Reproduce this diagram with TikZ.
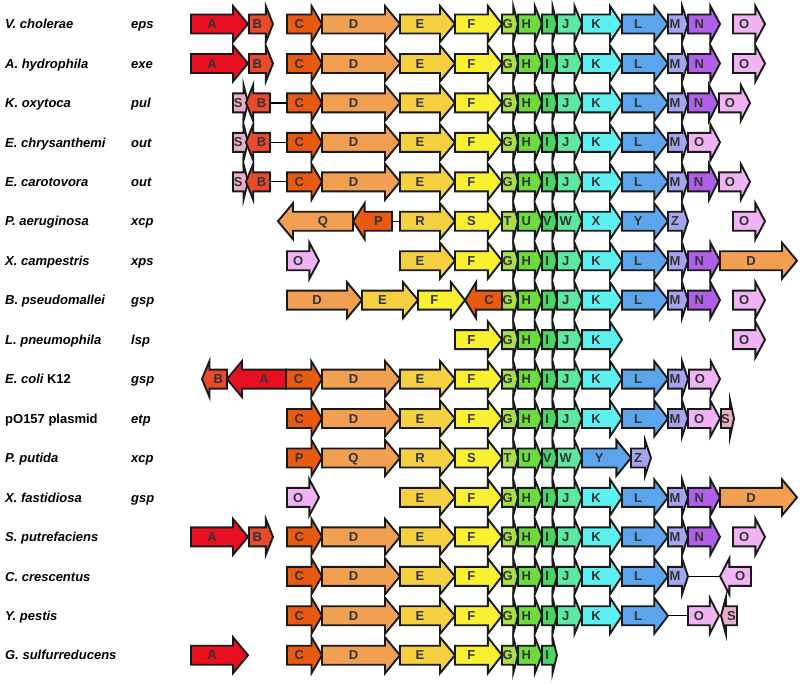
\documentclass[tikz,border=0pt]{standalone}
\usepackage{fontspec}
\setmainfont{Liberation Sans}
\usepackage{tikz}

\definecolor{gA}{HTML}{E81020}
\definecolor{gB}{HTML}{E84A2A}
\definecolor{gC}{HTML}{E85A10}
\definecolor{gD}{HTML}{F0A050}
\definecolor{gE}{HTML}{F5D040}
\definecolor{gF}{HTML}{F8F030}
\definecolor{gG}{HTML}{A8E048}
\definecolor{gH}{HTML}{6CDC3C}
\definecolor{gI}{HTML}{4CD464}
\definecolor{gJ}{HTML}{5CE8A0}
\definecolor{gK}{HTML}{5CF0F0}
\definecolor{gL}{HTML}{5CA4EC}
\definecolor{gM}{HTML}{A4A4F0}
\definecolor{gN}{HTML}{B060E8}
\definecolor{gO}{HTML}{F0B4F4}
\definecolor{gS}{HTML}{E8B0C8}

% gene arrow: name, row, x from, x to, direction (1/-1), colour, letter
\newcommand{\gene}[7]{%
  \pgfmathsetmacro{\gy}{24+(#2-1)*39.45}%
  \pgfmathsetmacro{\gh}{min(15,0.3*(#4-#3))}%
  \ifnum#5>0
    \pgfmathsetmacro{\gb}{#4-\gh}%
    \filldraw[gene, fill=#6] (#3,\gy-9.5) -- (\gb,\gy-9.5) -- (\gb,\gy-18) -- (#4,\gy)
      -- (\gb,\gy+18) -- (\gb,\gy+9.5) -- (#3,\gy+9.5) -- cycle;
    \node[glabel] (#1) at ({(#3+\gb)/2},\gy+4.6) {#7};
  \else
    \pgfmathsetmacro{\gb}{#3+\gh}%
    \filldraw[gene, fill=#6] (#4,\gy-9.5) -- (\gb,\gy-9.5) -- (\gb,\gy-18) -- (#3,\gy)
      -- (\gb,\gy+18) -- (\gb,\gy+9.5) -- (#4,\gy+9.5) -- cycle;
    \node[glabel] (#1) at ({(\gb+#4)/2},\gy+4.6) {#7};
  \fi
  \coordinate (#1-l) at (#3,\gy);
  \coordinate (#1-r) at (#4,\gy);
}

\begin{document}
\begin{tikzpicture}[x=1pt, y=-1pt,
    gene/.style={draw=black!90, line width=1.9pt, line join=miter},
    glabel/.style={anchor=base, inner sep=0pt, text=black!80, font=\fontsize{13}{15}\selectfont\bfseries},
    species/.style={anchor=base west, inner sep=0pt, font=\fontsize{13}{15}\selectfont\bfseries\itshape},
    operon/.style={anchor=base west, inner sep=0pt, font=\fontsize{13}{15}\selectfont\bfseries\itshape},
    link/.style={line width=1.3pt}]
    \useasboundingbox (0,0) rectangle (800,683);

    % Species and operon names
    \foreach \r/\sp/\op in {1/V. cholerae/eps, 2/A. hydrophila/exe, 3/K. oxytoca/pul,
        4/E. chrysanthemi/out, 5/E. carotovora/out, 6/P. aeruginosa/xcp,
        7/X. campestris/xps, 8/B. pseudomallei/gsp, 9/L. pneumophila/lsp,
        10/{E. coli \upshape K12}/gsp, 11/{\upshape pO157 plasmid}/etp, 12/P. putida/xcp,
        13/X. fastidiosa/gsp, 14/S. putrefaciens/, 15/C. crescentus/,
        16/Y. pestis/, 17/G. sulfurreducens/} {
      \pgfmathsetmacro{\ry}{24+(\r-1)*39.45}
      \node[species] (sp\r) at (5,\ry+4.7) {\sp};
      \node[operon] (op\r) at (131,\ry+4.7) {\op};
    }

    % Rows with A B C ... N O
    \foreach \r in {1,2,14} {
      \foreach \n/\a/\b/\c in {A/191/248/gA, B/249/273/gB, C/287/322/gC, D/322/400/gD,
          E/400/455/gE, F/455/502/gF, G/502/518/gG, H/518/542/gH, I/542/557/gI,
          J/557/582/gJ, K/582/622/gK, L/622/668/gL, M/668/688/gM, N/688/720/gN,
          O/733/765/gO}
        \gene{r\r\n}{\r}{\a}{\b}{1}{\c}{\n};
    }

    % Rows with S and reversed B
    \foreach \r in {3,4,5} {
      \foreach \n/\a/\b/\d/\c in {S/233/248/1/gS, B/246/270/-1/gB, C/287/322/1/gC,
          D/322/400/1/gD, E/400/455/1/gE, F/455/502/1/gF, G/502/518/1/gG,
          H/518/542/1/gH, I/542/557/1/gI, J/557/582/1/gJ, K/582/622/1/gK,
          L/622/668/1/gL, M/668/688/1/gM}
        \gene{r\r\n}{\r}{\a}{\b}{\d}{\c}{\n};
      \draw[link] (r\r B-r) -- (r\r C-l);
    }
    \foreach \r in {3,5} {
      \gene{r\r N}{\r}{688}{718}{1}{gN}{N};
      \gene{r\r O}{\r}{719}{750}{1}{gO}{O};
    }
    \gene{r4O}{4}{688}{720}{1}{gO}{O};

    % P. aeruginosa
    \foreach \n/\a/\b/\d/\c in {Q/278/353/-1/gD, P/353/392/-1/gC, R/400/455/1/gE,
        S/455/502/1/gF, T/502/518/1/gG, U/518/542/1/gH, V/542/557/1/gI,
        W/557/582/1/gJ, X/582/622/1/gK, Y/622/668/1/gL, Z/668/688/1/gM, O/733/765/1/gO}
      \gene{r6\n}{6}{\a}{\b}{\d}{\c}{\n};
    \draw[link] (r6P-r) -- (r6R-l);

    % X. campestris, X. fastidiosa
    \foreach \r in {7,13} {
      \foreach \n/\a/\b/\c in {O/287/319/gO, E/400/455/gE, F/455/502/gF, G/502/518/gG,
          H/518/542/gH, I/542/557/gI, J/557/582/gJ, K/582/622/gK, L/622/668/gL,
          M/668/688/gM, N/688/720/gN, D/720/797/gD}
        \gene{r\r\n}{\r}{\a}{\b}{1}{\c}{\n};
    }

    % B. pseudomallei
    \foreach \n/\a/\b/\d/\c in {D/287/362/1/gD, E/362/418/1/gE, F/418/465/1/gF,
        C/465/502/-1/gC, G/502/518/1/gG, H/518/542/1/gH, I/542/557/1/gI,
        J/557/582/1/gJ, K/582/622/1/gK, L/622/668/1/gL, M/668/688/1/gM,
        N/688/720/1/gN, O/733/765/1/gO}
      \gene{r8\n}{8}{\a}{\b}{\d}{\c}{\n};

    % L. pneumophila
    \foreach \n/\a/\b/\c in {F/455/502/gF, G/502/518/gG, H/518/542/gH, I/542/557/gI,
        J/557/582/gJ, K/582/622/gK, O/733/765/gO}
      \gene{r9\n}{9}{\a}{\b}{1}{\c}{\n};

    % E. coli K12
    \foreach \n/\a/\b/\d/\c in {B/202/227/-1/gB, A/227/286/-1/gA, C/286/322/1/gC,
        D/322/400/1/gD, E/400/455/1/gE, F/455/502/1/gF, G/502/518/1/gG,
        H/518/542/1/gH, I/542/557/1/gI, J/557/582/1/gJ, K/582/622/1/gK,
        L/622/668/1/gL, M/668/688/1/gM, O/689/720/1/gO}
      \gene{r10\n}{10}{\a}{\b}{\d}{\c}{\n};

    % pO157 plasmid
    \foreach \n/\a/\b/\c in {C/287/322/gC, D/322/400/gD, E/400/455/gE, F/455/502/gF,
        G/502/518/gG, H/518/542/gH, I/542/557/gI, J/557/582/gJ, K/582/622/gK,
        L/622/668/gL, M/668/688/gM, O/688/720/gO, S/721/734/gS}
      \gene{r11\n}{11}{\a}{\b}{1}{\c}{\n};

    % P. putida
    \foreach \n/\a/\b/\c in {P/287/322/gC, Q/322/400/gD, R/400/455/gE, S/455/502/gF,
        T/502/518/gG, U/518/542/gH, V/542/557/gI, W/557/582/gJ, Y/582/631/gL,
        Z/631/651/gM}
      \gene{r12\n}{12}{\a}{\b}{1}{\c}{\n};

    % C. crescentus, Y. pestis
    \foreach \r in {15,16} {
      \foreach \n/\a/\b/\c in {C/287/322/gC, D/322/400/gD, E/400/455/gE, F/455/502/gF,
          G/502/518/gG, H/518/542/gH, I/542/557/gI, J/557/582/gJ, K/582/622/gK,
          L/622/668/gL}
        \gene{r\r\n}{\r}{\a}{\b}{1}{\c}{\n};
    }
    \gene{r15M}{15}{668}{688}{1}{gM}{M};
    \gene{r15O}{15}{720}{751}{-1}{gO}{O};
    \draw[link] (r15M-r) -- (r15O-l);
    \gene{r16O}{16}{688}{719}{1}{gO}{O};
    \gene{r16S}{16}{721}{737}{-1}{gS}{S};
    \draw[link] (r16L-r) -- (r16O-l);

    % G. sulfurreducens
    \foreach \n/\a/\b/\c in {A/191/248/gA, C/287/322/gC, D/322/400/gD, E/400/455/gE,
        F/455/502/gF, G/502/518/gG, H/518/542/gH, I/542/557/gI}
      \gene{r17\n}{17}{\a}{\b}{1}{\c}{\n};
\end{tikzpicture}
\end{document}
